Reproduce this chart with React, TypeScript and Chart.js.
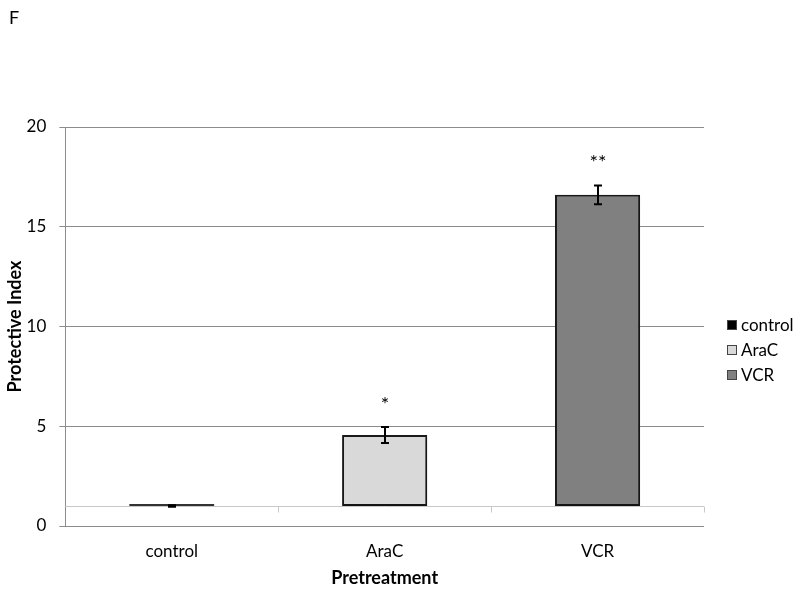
import React, { useEffect, useRef } from 'react';
import { Chart, registerables } from 'chart.js';

Chart.register(...registerables);

const categories = ['control', 'AraC', 'VCR'];
const baseValue = 1;
const values = [1, 4.56, 16.6];
const errors = [0.04, 0.4, 0.47];
const significance = ['', '*', '**'];
const colors = ['#000000', '#d9d9d9', '#808080'];
const yMin = 0;
const yMax = 20;
const yStep = 5;

const FONT = 'Lato, "Open Sans", sans-serif';

const extrasPlugin = {
  id: 'extras',
  beforeDatasetsDraw(chart: any) {
    const { ctx, chartArea, scales } = chart;
    const x = scales.x;
    const y = scales.y;
    ctx.save();
    const by = Math.round(y.getPixelForValue(baseValue)) + 0.5;
    ctx.strokeStyle = '#c8c8c8';
    ctx.lineWidth = 1;
    ctx.beginPath();
    ctx.moveTo(chartArea.left, by);
    ctx.lineTo(chartArea.right, by);
    const step = x.getPixelForValue(1) - x.getPixelForValue(0);
    for (let i = 0; i < categories.length; i++) {
      const bx = Math.round(x.getPixelForValue(i) + step / 2) + 0.5;
      ctx.moveTo(bx, by);
      ctx.lineTo(bx, by + 6);
    }
    ctx.stroke();
    ctx.restore();
  },
  beforeDatasetDraw(chart: any) {
    const { ctx } = chart;
    ctx.save();
    ctx.shadowColor = 'rgba(0,0,0,0.28)';
    ctx.shadowBlur = 4;
    ctx.shadowOffsetX = 1;
    ctx.shadowOffsetY = 2;
  },
  afterDatasetDraw(chart: any) {
    chart.ctx.restore();
  },
  afterDatasetsDraw(chart: any) {
    const { ctx, scales } = chart;
    const x = scales.x;
    const y = scales.y;
    ctx.save();
    ctx.strokeStyle = '#000';
    ctx.lineWidth = 2;
    values.forEach((v, i) => {
      const cx = Math.round(x.getPixelForValue(i));
      const yt = y.getPixelForValue(v + errors[i]);
      const yb = y.getPixelForValue(v - errors[i]);
      ctx.beginPath();
      ctx.moveTo(cx, yt);
      ctx.lineTo(cx, yb);
      ctx.moveTo(cx - 4, yt);
      ctx.lineTo(cx + 4, yt);
      ctx.moveTo(cx - 4, yb);
      ctx.lineTo(cx + 4, yb);
      ctx.stroke();
      if (significance[i]) {
        ctx.fillStyle = '#000';
        ctx.font = '20px ' + FONT;
        ctx.textAlign = 'center';
        ctx.textBaseline = 'middle';
        ctx.fillText(significance[i], cx, yt - 23);
      }
    });
    ctx.restore();
  },
  afterDraw(chart: any) {
    const { ctx } = chart;
    ctx.save();
    ctx.fillStyle = '#000';
    ctx.font = '18px ' + FONT;
    ctx.textAlign = 'left';
    ctx.textBaseline = 'middle';
    ctx.fillText('F', 9, 18);
    ctx.font = '17px ' + FONT;
    categories.forEach((c, i) => {
      const cy = 325 + i * 25;
      ctx.fillStyle = colors[i];
      ctx.fillRect(727, cy - 5, 10, 10);
      ctx.strokeStyle = '#444';
      ctx.lineWidth = 1;
      ctx.strokeRect(727.5, cy - 4.5, 9, 9);
      ctx.fillStyle = '#000';
      ctx.fillText(c, 741, cy + 1);
    });
    ctx.restore();
  },
};

export default function App() {
  const ref = useRef<HTMLCanvasElement>(null);
  useEffect(() => {
    document.body.style.margin = '0';
    const datasets = categories.map((c, i) => ({
      label: c,
      data: categories.map((_, j) => (j === i ? [baseValue, values[i]] : null)),
      backgroundColor: colors[i],
      borderColor: i === 0 ? '#333' : '#1a1a1a',
      borderWidth: 2,
      borderSkipped: false,
      grouped: false,
      barPercentage: 0.4,
      categoryPercentage: 1,
      minBarLength: 2,
    }));
    const chart = new Chart(ref.current!, {
      type: 'bar',
      data: { labels: categories, datasets: datasets as any },
      options: {
        animation: false,
        responsive: true,
        maintainAspectRatio: false,
        layout: { padding: { top: 127, left: 4, right: 96, bottom: 2 } },
        plugins: {
          legend: { display: false },
          tooltip: { enabled: false },
        },
        scales: {
          x: {
            grid: { display: false, drawTicks: false },
            border: { display: false },
            ticks: { color: '#000', font: { family: FONT, size: 17 }, padding: 15 },
            title: {
              display: true,
              text: 'Pretreatment',
              color: '#000',
              font: { family: FONT, size: 18, weight: 'bold' },
              padding: { top: -9, bottom: 0 },
            },
          },
          y: {
            min: yMin,
            max: yMax,
            ticks: { stepSize: yStep, color: '#000', font: { family: FONT, size: 17 }, padding: 13 },
            grid: { color: '#8c8c8c', tickLength: 6, tickColor: '#8c8c8c' },
            border: { color: '#8c8c8c' },
            title: {
              display: true,
              text: 'Protective Index',
              color: '#000',
              font: { family: FONT, size: 18, weight: 'bold' },
              padding: { top: 0, bottom: -12 },
            },
          },
        },
      },
      plugins: [extrasPlugin],
    });
    return () => chart.destroy();
  }, []);
  return (
    <div style={{ width: 800, height: 591, position: 'relative' }}>
      <canvas ref={ref} />
    </div>
  );
}
